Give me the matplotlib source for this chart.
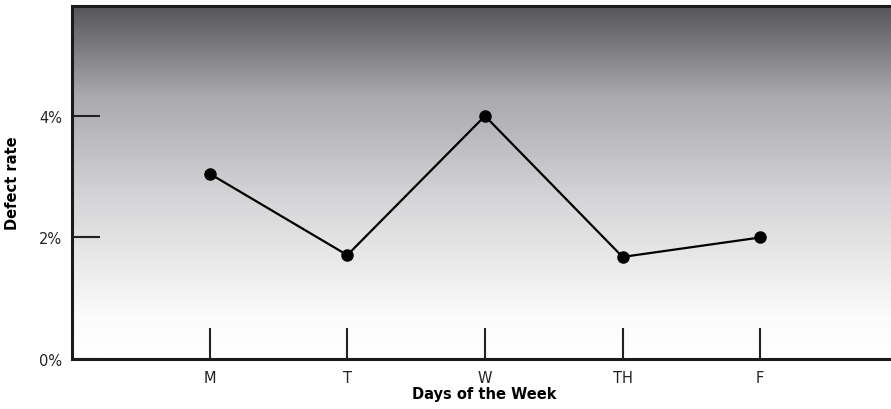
import matplotlib
matplotlib.use('Agg')
import matplotlib.pyplot as plt
import numpy as np
from matplotlib.colors import LinearSegmentedColormap

days = ['M', 'T', 'W', 'TH', 'F']
rate = [3.05, 1.71, 4.0, 1.68, 2.0]
yticks = [0, 2, 4]
ylabels = ['0%', '2%', '4%']

fig = plt.figure(figsize=(8.91, 4.10), dpi=100)
ax = fig.add_axes([72/891, 50/410, 1 - 72/891, 353/410])

# grey gradient background, dark at top
cmap = LinearSegmentedColormap.from_list('bg', [(0.0, '#ffffff'), (0.12, '#fbfbfb'),
                                               (0.45, '#d6d6d8'), (0.75, '#a9a8ad'),
                                               (1.0, '#56555a')])
grad = np.linspace(0, 1, 256).reshape(-1, 1)
ax.imshow(grad, aspect='auto', cmap=cmap, origin='lower',
          extent=[0, 5.95, 0, 5.81], zorder=0)

x = np.arange(1, len(days) + 1)
ax.plot(x, rate, color='black', lw=1.6, marker='o', ms=8, zorder=3)

ax.set_xlim(0, 5.95)
ax.set_ylim(0, 5.81)
ax.set_xticks(x)
ax.set_xticklabels(days)
ax.set_yticks(yticks)
ax.set_yticklabels(ylabels)
ax.tick_params(axis='x', direction='in', length=22, width=1.5, pad=8, labelsize=10.5, colors='#222222')
ax.tick_params(axis='y', direction='in', length=20, width=1.5, pad=7, labelsize=10.5, colors='#222222')
ax.spines['right'].set_visible(False)
for s in ['left', 'bottom', 'top']:
    ax.spines[s].set_linewidth(2.2)
    ax.spines[s].set_color('#1a1a1a')

ax.set_xlabel('Days of the Week', fontweight='bold', fontsize=10.5)
ax.set_ylabel('Defect rate', fontweight='bold', fontsize=10.5)
ax.xaxis.set_label_coords((484 - 72) / 819, -27 / 353)
ax.yaxis.set_label_coords((20 - 72) / 819, 0.5)

plt.savefig('out.png', dpi=100)
